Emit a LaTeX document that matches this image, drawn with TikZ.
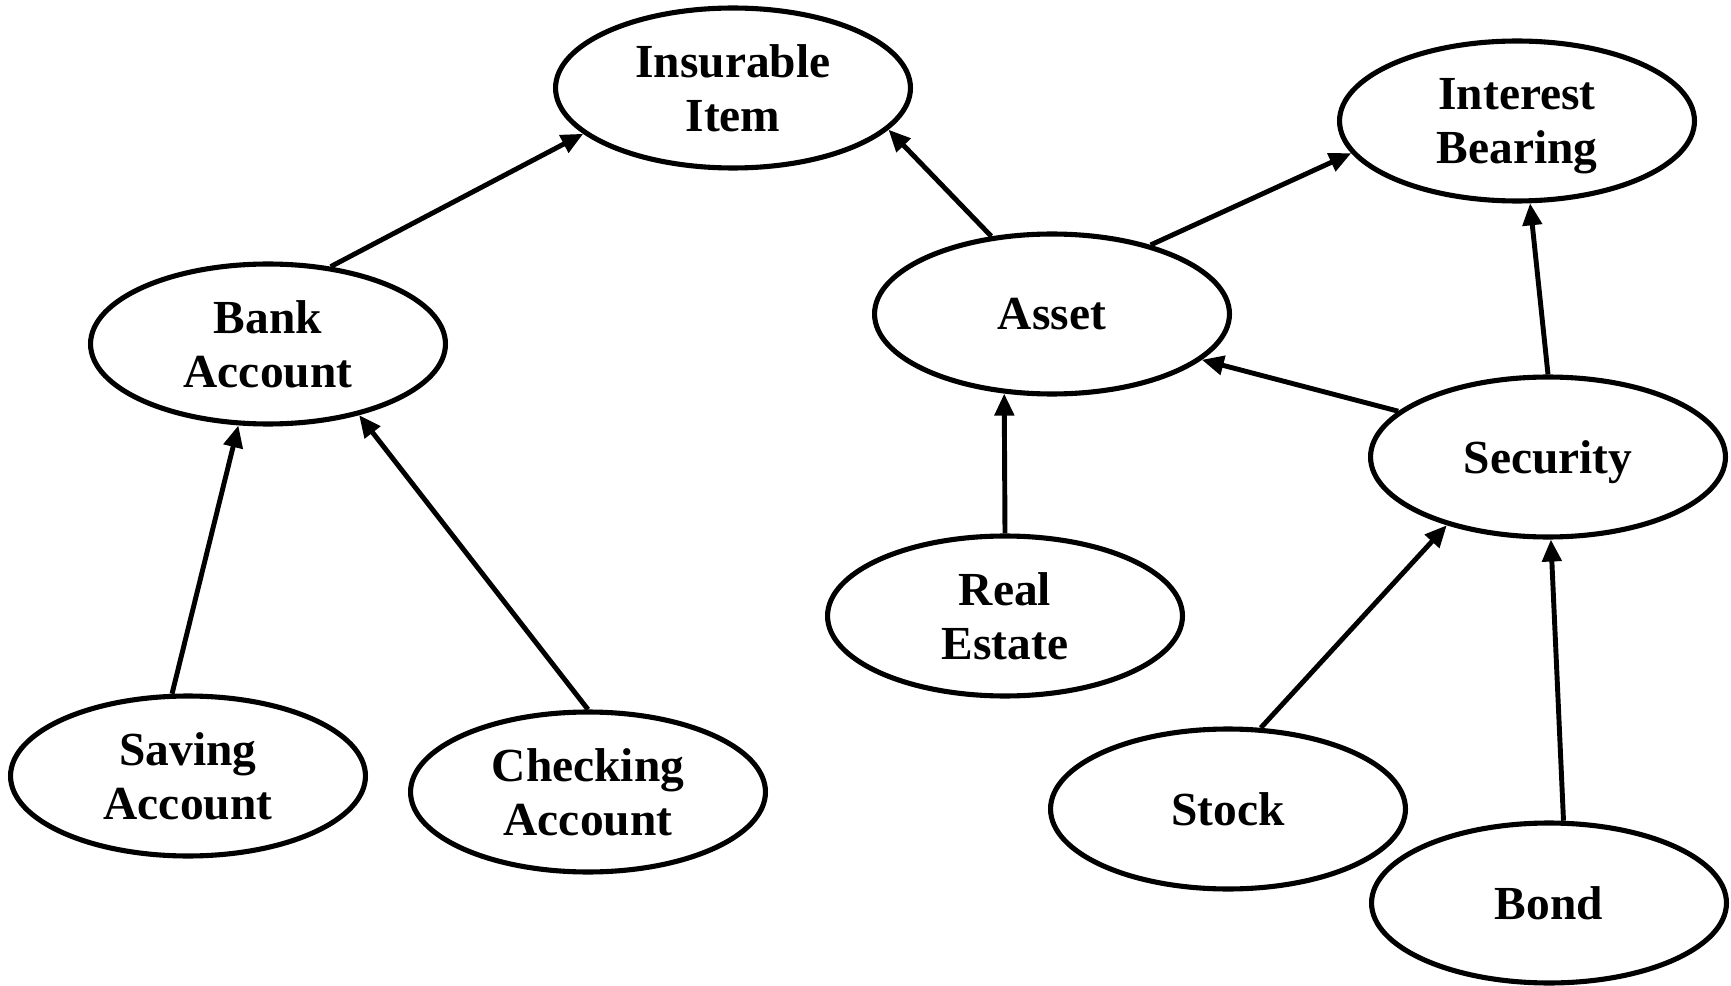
\documentclass[tikz,border=0pt]{standalone}
\usepackage{fontspec}
\setmainfont{Liberation Serif}
\usetikzlibrary{arrows.meta,shapes.geometric}
\begin{document}
\begin{tikzpicture}[x=0.02cm, y=-0.02cm,
  concept/.style={draw, ellipse, line width=2.9pt, minimum width=7.1cm, minimum height=3.2cm,
    inner sep=0pt, align=center, text depth=0pt, font=\fontsize{27}{31}\selectfont\bfseries},
  isa/.style={-{Triangle[length=0.44cm,width=0.38cm]}, line width=2.8pt}]
\useasboundingbox (0,0) rectangle (1731,986);
\node[concept] (insurable) at (733,88) {Insurable\\Item};
\node[concept] (interest) at (1517,121) {Interest\\Bearing};
\node[concept] (bank) at (268,344) {Bank\\Account};
\node[concept] (asset) at (1052,314) {Asset};
\node[concept] (security) at (1548,457) {Security};
\node[concept] (realestate) at (1005,616) {Real\\Estate};
\node[concept] (saving) at (188,776) {Saving\\Account};
\node[concept] (checking) at (588,792) {Checking\\Account};
\node[concept] (stock) at (1228,809) {Stock};
\node[concept] (bond) at (1549,903) {Bond};
% is-a links
\draw[isa] (bank.51) -- (insurable.197);
\draw[isa] (asset.128) -- (insurable.345);
\draw[isa] (asset.35) -- (interest.191);
\draw[isa] (security.90) -- (interest.279);
\draw[isa] (security.163) -- (asset.343);
\draw[isa] (realestate.90) -- (asset.239);
\draw[isa] (saving.101) -- (bank.250);
\draw[isa] (checking.90) -- (bank.322);
\draw[isa] (stock.68) -- (security.214);
\draw[isa] (bond.80) -- (security.272);
\end{tikzpicture}
\end{document}
